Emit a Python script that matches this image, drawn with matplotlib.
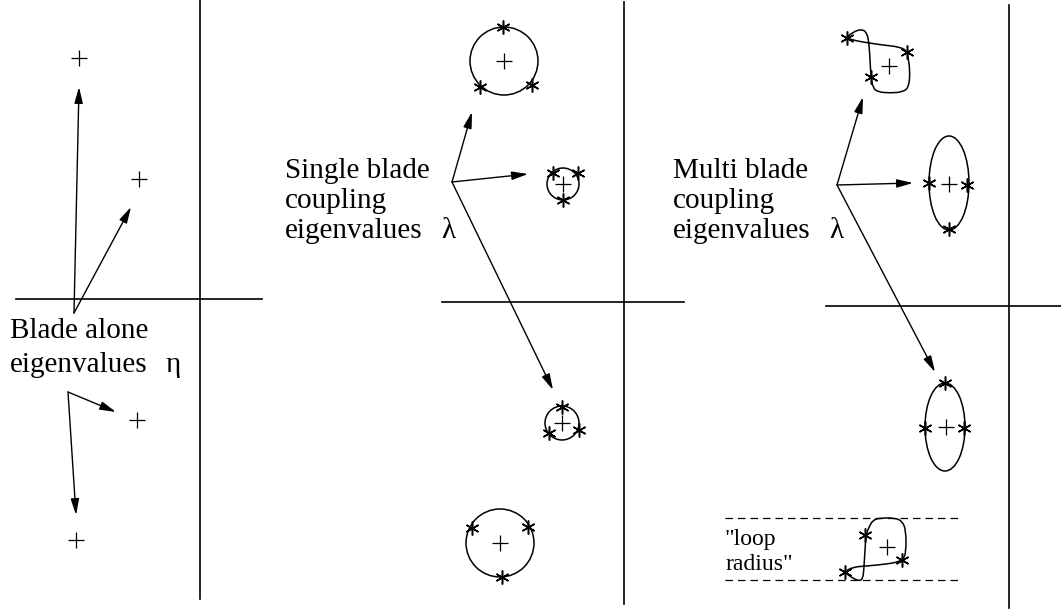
import matplotlib
matplotlib.use("Agg")
import matplotlib.pyplot as plt
from matplotlib.patches import Circle, Ellipse, FancyArrowPatch, PathPatch
from matplotlib.path import Path

# ---- data (picture coordinates, pixels, y downwards) ----
# complex-plane axes of the three panels
h_axis_x0 = [16, 442, 826]
h_axis_x1 = [262, 684, 1061]
h_axis_y = [299, 302, 306]
v_axis_x = [200, 624, 1009]
v_axis_y0 = [0, 2, 5]
v_axis_y1 = [599, 604, 608]

# blade alone eigenvalues (eta)
eta_x = [79, 139, 137, 76]
eta_y = [58, 179, 420, 540]
eta_arrow_x0 = [74, 74, 68, 68]
eta_arrow_y0 = [313, 313, 392, 392]
eta_arrow_x1 = [79, 131, 116, 76]
eta_arrow_y1 = [87, 207, 412, 515]

# single blade coupling eigenvalues (lambda)
single_x = [504, 563, 562, 500]
single_y = [61, 184, 423, 543]
single_r = [34, 16, 17, 34]
single_star_x = [503, 480, 532, 553, 578, 563, 562, 549, 579, 472, 528, 502]
single_star_y = [27, 87, 85, 173, 173, 200, 407, 433, 430, 528, 527, 577]
single_arrow_x1 = [472, 528, 553]
single_arrow_y1 = [112, 174, 390]
single_origin = (452, 182)

# multi blade coupling eigenvalues (lambda)
multi_x = [889, 949, 946, 887]
multi_y = [66, 184, 427, 547]
ellipse_x = [949, 945]
ellipse_y = [183, 427]
ellipse_w = [40, 40]
ellipse_h = [94, 88]
multi_star_x = [847, 907, 871, 929, 967, 949, 945, 925, 964, 865, 902, 845]
multi_star_y = [38, 52, 77, 183, 185, 229, 383, 428, 428, 535, 560, 572]
multi_arrow_x1 = [863, 913, 935]
multi_arrow_y1 = [97, 183, 372]
multi_origin = (837, 185)

# hand-drawn loci (control points of a smooth closed curve)
loop1_x = [846, 853, 862, 867, 869, 870, 871, 873, 878, 890, 903, 909, 910, 908, 907, 900, 883, 869, 857]
loop1_y = [38, 32, 29, 33, 43, 60, 77, 88, 92, 93, 92, 87, 70, 57, 51, 47, 45, 43, 41]
loop2_x = [844, 853, 867, 887, 898, 903, 906, 906, 902, 895, 880, 873, 869, 866, 865, 864, 863, 860, 854]
loop2_y = [572, 567, 566, 564, 562, 559, 553, 530, 521, 518, 518, 520, 527, 535, 550, 567, 578, 581, 579]

radius_lines_y = [518, 580]
radius_lines_x = [725, 961]

serif = "Liberation Serif"

fig = plt.figure(figsize=(10.61, 6.12), dpi=100)
ax = fig.add_axes([0, 0, 1, 1])
ax.set_xlim(0, 1061)
ax.set_ylim(612, 0)
ax.axis("off")

# axes of each panel
for x0, x1, y in zip(h_axis_x0, h_axis_x1, h_axis_y):
    ax.plot([x0, x1], [y, y], color="black", lw=1.2)
for x, y0, y1 in zip(v_axis_x, v_axis_y0, v_axis_y1):
    ax.plot([x, x], [y0, y1], color="black", lw=1.2)


def arrow(p0, p1):
    a = FancyArrowPatch(p0, p1, arrowstyle="-|>,head_length=0.65,head_width=0.17",
                        mutation_scale=15, shrinkA=0, shrinkB=0,
                        color="black", lw=1.0)
    ax.add_patch(a)


def smooth_loop(xs, ys):
    # closed quadratic spline through midpoints, control points = given points
    pts = list(zip(xs, ys))
    n = len(pts)
    mid = lambda a, b: ((a[0] + b[0]) / 2, (a[1] + b[1]) / 2)
    verts = [mid(pts[0], pts[1])]
    codes = [Path.MOVETO]
    for i in range(1, n + 1):
        verts += [pts[i % n], mid(pts[i % n], pts[(i + 1) % n])]
        codes += [Path.CURVE3, Path.CURVE3]
    ax.add_patch(PathPatch(Path(verts, codes), fill=False, color="black", lw=1.1))


plus_kw = dict(marker="+", ms=11, mew=0.9, color="black", ls="none")
star_kw = dict(marker=(6, 2, 0), ms=10, mew=1.1, color="black", ls="none")

# panel 1
ax.plot(eta_x, eta_y, **plus_kw)
for x0, y0, x1, y1 in zip(eta_arrow_x0, eta_arrow_y0, eta_arrow_x1, eta_arrow_y1):
    arrow((x0, y0), (x1, y1))
ax.text(10, 338, "Blade alone", fontsize=21, family=serif, va="baseline")
ax.text(10, 372, "eigenvalues", fontsize=21, family=serif, va="baseline")
ax.text(166, 372, "η", fontsize=21, family=serif, va="baseline")

# panel 2
ax.plot(single_x, single_y, **plus_kw)
for x, y, r in zip(single_x, single_y, single_r):
    ax.add_patch(Circle((x, y), r, fill=False, color="black", lw=1.1))
ax.plot(single_star_x, single_star_y, **star_kw)
for x1, y1 in zip(single_arrow_x1, single_arrow_y1):
    arrow(single_origin, (x1, y1))
ax.text(285, 178, "Single blade", fontsize=21, family=serif, va="baseline")
ax.text(285, 208, "coupling", fontsize=21, family=serif, va="baseline")
ax.text(285, 238, "eigenvalues", fontsize=21, family=serif, va="baseline")
ax.text(441, 238, "λ", fontsize=21, family=serif, va="baseline")

# panel 3
ax.plot(multi_x, multi_y, **plus_kw)
for x, y, w, h in zip(ellipse_x, ellipse_y, ellipse_w, ellipse_h):
    ax.add_patch(Ellipse((x, y), w, h, fill=False, color="black", lw=1.1))
smooth_loop(loop1_x, loop1_y)
smooth_loop(loop2_x, loop2_y)
ax.plot(multi_star_x, multi_star_y, **star_kw)
for x1, y1 in zip(multi_arrow_x1, multi_arrow_y1):
    arrow(multi_origin, (x1, y1))
ax.text(673, 178, "Multi blade", fontsize=21, family=serif, va="baseline")
ax.text(673, 208, "coupling", fontsize=21, family=serif, va="baseline")
ax.text(673, 238, "eigenvalues", fontsize=21, family=serif, va="baseline")
ax.text(829, 238, "λ", fontsize=21, family=serif, va="baseline")

for y in radius_lines_y:
    ax.plot(radius_lines_x, [y, y], color="black", lw=0.9, dashes=(6, 4))
ax.text(725, 545, '"loop', fontsize=17, family=serif, va="baseline")
ax.text(725, 570, 'radius"', fontsize=17, family=serif, va="baseline")

fig.savefig("out.png", dpi=100)
